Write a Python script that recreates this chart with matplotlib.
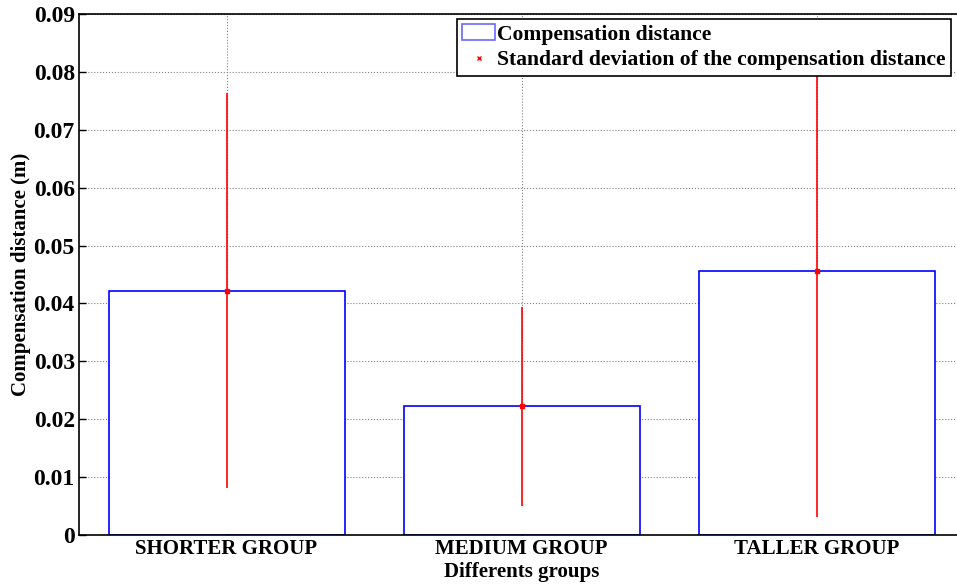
import numpy as np
import matplotlib.pyplot as plt
from matplotlib.patches import Patch
from matplotlib.lines import Line2D

# Datos
grupos = ['SHORTER GROUP', 'MEDIUM GROUP', 'TALLER GROUP']
distancia = [0.0422, 0.0222, 0.0456]
desviacion = [0.0341, 0.0172, 0.0425]

plt.rcParams['font.family'] = ['Liberation Serif', 'DejaVu Serif']
plt.rcParams['font.weight'] = 'bold'

fig = plt.figure(figsize=(9.57, 5.85), dpi=100)
ax = fig.add_axes([79 / 957, 1 - 535 / 585, (964 - 79) / 957, (535 - 14) / 585])

x = np.arange(1, len(grupos) + 1)
ax.bar(x, distancia, width=0.8, facecolor='white', edgecolor='blue', linewidth=1.2, zorder=2)
ax.errorbar(x, distancia, yerr=desviacion, fmt='s', color='red', markersize=2.5,
            elinewidth=1.2, capsize=0, zorder=3)

ax.set_xlim(0.5, 3.5)
ax.set_ylim(0, 0.09)
ax.set_xticks(x)
ax.set_xticklabels(grupos, fontsize=15, fontweight='bold')
ax.set_yticks(np.arange(0, 0.091, 0.01))
ax.set_yticklabels(['0'] + ['%.2f' % v for v in np.arange(0.01, 0.091, 0.01)],
                   fontsize=17, fontweight='bold')
ax.tick_params(direction='in', length=5, width=1, top=False, right=False, pad=3)
ax.grid(True, linestyle=':', color='gray', linewidth=0.8, zorder=0)
ax.set_axisbelow(True)
for s in ax.spines.values():
    s.set_linewidth(1.2)

ax.set_xlabel('Differents groups', fontsize=15, fontweight='bold', labelpad=2)
ax.set_ylabel('Compensation distance (m)', fontsize=15, fontweight='bold', labelpad=2)

handles = [Patch(facecolor='white', edgecolor='#6a6aff', linewidth=1.2),
           Line2D([], [], linestyle='none', marker='x', color='red', markersize=3)]
leg = ax.legend(handles, ['Compensation distance', 'Standard deviation of the compensation distance'],
                loc='upper left', bbox_to_anchor=(457 / 957, 1 - 19 / 585),
                bbox_transform=fig.transFigure, prop={'weight': 'bold', 'size': 15.6},
                frameon=True, fancybox=False, framealpha=1, edgecolor='black',
                borderpad=0.25, labelspacing=0.25, handlelength=1.5, handletextpad=0.1, borderaxespad=0)
leg.get_frame().set_linewidth(1.2)

plt.savefig('out.png', dpi=100)
